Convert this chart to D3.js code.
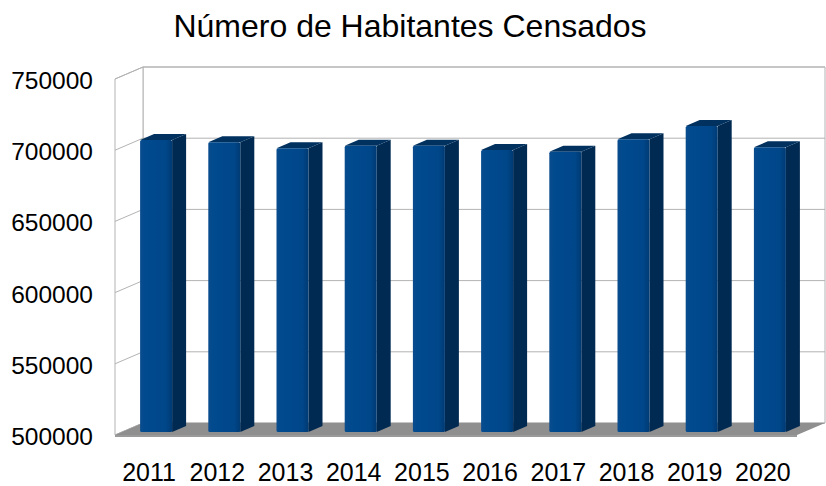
<!DOCTYPE html>
<html>

<head>
  <meta charset="utf-8">
  <title>Número de Habitantes Censados</title>
  <style>
    body {
      margin: 0;
      background: #ffffff;
    }

    text {
      font-family: "Liberation Sans", Arial, sans-serif;
      fill: #000000;
    }
  </style>
</head>

<body>
  <svg></svg>
  <script src="https://cdn.jsdelivr.net/npm/d3@7/dist/d3.min.js"></script>
  <script>
    var years = ["2011", "2012", "2013", "2014", "2015", "2016", "2017", "2018", "2019", "2020"];
    var habitantes = [705000, 703400, 699200, 701000, 701000, 698000, 696800, 705500, 714900, 699900];
    var yTicks = [500000, 550000, 600000, 650000, 700000, 750000];
    var titulo = "Número de Habitantes Censados";

    var width = 826,
      height = 486;
    // depth of the 3d box (back wall offset); bars take half of it
    var DX = 28, DY = -12;
    var pLeft = 115, pRight = 797, pBottom = 435, pTop = 79;
    var barW = 32;

    var svg = d3.select("svg").attr("width", width).attr("height", height);

    var x = d3.scaleBand().domain(years).range([pLeft, pRight]).padding(0);
    var y = d3.scaleLinear().domain([500000, 750000]).range([pBottom, pTop]);

    var defs = svg.append("defs");
    var grad = defs.append("linearGradient").attr("id", "front").attr("x1", 0).attr("x2", 1).attr("y1", 0).attr("y2", 0);
    grad.append("stop").attr("offset", "0%").attr("stop-color", "#0a4c8e");
    grad.append("stop").attr("offset", "15%").attr("stop-color", "#004a8d");
    grad.append("stop").attr("offset", "80%").attr("stop-color", "#00478a");
    grad.append("stop").attr("offset", "100%").attr("stop-color", "#003a73");

    // title
    svg.append("text")
      .attr("x", 410)
      .attr("y", 37)
      .attr("text-anchor", "middle")
      .attr("font-size", "32px")
      .text(titulo);

    var poly = function (pts) { return "M" + pts.map(function (p) { return p.join(","); }).join("L") + "Z"; };

    // walls
    svg.append("path")
      .attr("d", poly([[pLeft + DX, pTop + DY], [pRight + DX, pTop + DY], [pRight + DX, pBottom + DY], [pLeft + DX, pBottom + DY]]))
      .attr("fill", "#ffffff").attr("stroke", "#b3b3b3").attr("stroke-width", 1);
    svg.append("path")
      .attr("d", poly([[pLeft, pTop], [pLeft + DX, pTop + DY], [pLeft + DX, pBottom + DY], [pLeft, pBottom]]))
      .attr("fill", "#ffffff").attr("stroke", "#b3b3b3").attr("stroke-width", 1);

    // grid lines on back and side walls
    var grid = svg.append("g").attr("stroke", "#b3b3b3").attr("stroke-width", 1);
    grid.selectAll("line.back").data(yTicks).enter().append("line")
      .attr("class", "back")
      .attr("x1", pLeft + DX).attr("x2", pRight + DX)
      .attr("y1", d => y(d) + DY).attr("y2", d => y(d) + DY);
    grid.selectAll("line.side").data(yTicks).enter().append("line")
      .attr("class", "side")
      .attr("x1", pLeft).attr("x2", pLeft + DX)
      .attr("y1", d => y(d)).attr("y2", d => y(d) + DY);

    // floor
    svg.append("path")
      .attr("d", poly([[pLeft, pBottom], [pLeft + DX, pBottom + DY], [pRight + DX, pBottom + DY], [pRight, pBottom]]))
      .attr("fill", "#8f8f8f");
    svg.append("path")
      .attr("d", poly([[pLeft, pBottom], [pRight, pBottom], [pRight, pBottom + 2], [pLeft, pBottom + 2]]))
      .attr("fill", "#9a9a9a");

    // bars: front face sits a quarter of the depth in
    var fx = DX / 4, fy = DY / 4, bx = DX / 2, by = DY / 2;
    var bars = svg.selectAll("g.bar").data(years.map((d, i) => ({ year: d, v: habitantes[i] })))
      .enter().append("g").attr("class", "bar");

    var x0 = d => x(d.year) + x.bandwidth() / 2 + fx - barW / 2;
    bars.append("path")
      .attr("d", d => poly([[x0(d) + barW, y(d.v) + fy], [x0(d) + barW + bx, y(d.v) + fy + by],
      [x0(d) + barW + bx, pBottom + fy + by], [x0(d) + barW, pBottom + fy]]))
      .attr("fill", "#002a52");
    bars.append("path")
      .attr("d", d => poly([[x0(d), y(d.v) + fy], [x0(d) + bx, y(d.v) + fy + by],
      [x0(d) + barW + bx, y(d.v) + fy + by], [x0(d) + barW, y(d.v) + fy]]))
      .attr("fill", "#00315f");
    bars.append("rect")
      .attr("x", x0)
      .attr("y", d => y(d.v) + fy)
      .attr("width", barW)
      .attr("height", d => pBottom - y(d.v))
      .attr("rx", 1.5)
      .attr("fill", "url(#front)");

    // y labels
    svg.selectAll("text.ylab").data(yTicks).enter().append("text")
      .attr("class", "ylab")
      .attr("x", 93)
      .attr("y", d => y(d) + 10)
      .attr("text-anchor", "end")
      .attr("font-size", "24.5px")
      .text(d => d);

    // x labels
    svg.selectAll("text.xlab").data(years).enter().append("text")
      .attr("class", "xlab")
      .attr("x", d => x(d) + x.bandwidth() / 2)
      .attr("y", 481)
      .attr("text-anchor", "middle")
      .attr("font-size", "25px")
      .text(d => d);
  </script>
</body>

</html>
